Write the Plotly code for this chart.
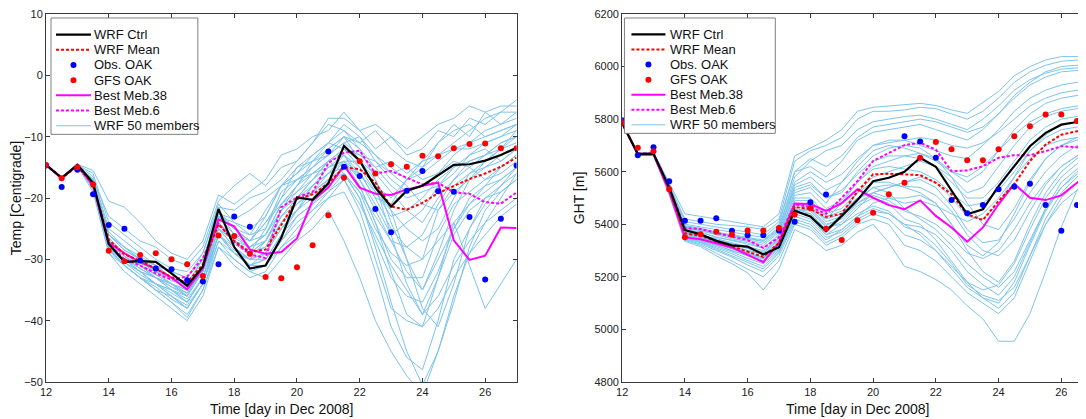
import plotly.graph_objects as go

days = [12, 12.5, 13, 13.5, 14, 14.5, 15, 15.5, 16, 16.5, 17, 17.5, 18, 18.5, 19, 19.5,
        20, 20.5, 21, 21.5, 22, 22.5, 23, 23.5, 24, 24.5, 25, 25.5, 26, 26.5, 27]

# ---------------- Temperature panel ----------------
temp_ctrl = [-14.6, -16.7, -14.6, -17.5, -27.5, -30.4, -30.3, -30.4, -32.3, -34.3, -31.2, -21.8, -28.0, -31.5, -31.0, -26.5,
             -19.9, -20.3, -17.6, -11.5, -13.9, -18.3, -21.4, -18.8, -18.0, -16.3, -14.6, -14.5, -13.9, -13.0, -11.8]
temp_mean = [-14.6, -16.7, -14.8, -17.8, -26.8, -29.2, -30.2, -31.5, -32.9, -33.8, -30.8, -24.3, -27.0, -28.8, -28.4, -24.4,
             -20.2, -19.4, -17.6, -15.0, -15.3, -17.5, -21.4, -21.9, -20.8, -19.2, -18.0, -16.9, -16.0, -14.9, -13.4]
temp_meb38 = [-14.6, -16.8, -14.6, -18.0, -27.3, -29.0, -30.5, -31.5, -33.0, -34.9, -31.5, -23.5, -24.6, -28.4, -29.1, -28.8,
              -26.6, -20.4, -18.3, -14.7, -18.3, -19.3, -19.5, -18.6, -18.0, -17.5, -26.9, -30.1, -29.4, -24.8, -24.9]
temp_meb6 = [-14.6, -16.8, -14.8, -17.8, -27.5, -30.0, -31.0, -32.3, -33.3, -32.8, -29.8, -24.2, -27.2, -29.2, -29.8, -21.5,
             -19.9, -19.0, -14.3, -12.6, -12.3, -16.0, -15.6, -16.7, -17.8, -17.5, -19.1, -19.3, -20.7, -20.9, -19.1]
temp_obs = [-14.7, -18.2, -15.4, -19.4, -24.4, -25.0, -30.2, -31.5, -31.6, -33.4, -33.6, -30.8, -23.0, -24.7, None, None,
            None, None, -12.4, -14.9, -16.4, -21.8, -25.6, -18.8, -15.6, -18.9, -19.0, -23.1, -33.3, -23.4, -14.7]
temp_gfs = [-14.6, -16.8, -15.0, -17.8, -28.6, -30.3, -29.3, -29.0, -30.0, -30.8, -32.7, -26.1, -26.2, -29.1, -32.9, -33.1,
            -31.3, -27.7, -22.8, -16.7, -14.0, -16.0, -14.5, -14.9, -13.1, -13.2, -11.9, -11.2, -11.1, -11.9, -11.9]

temp_members = [
    [-14.6, -16.8, -14.5, -15.5, -20.5, -21.5, -24, -27, -29, -30, -27, -19.5, -21, -19, -17, -13, -12, -10, -9, -6, -9, -12, -10, -13, -12, -9, -10, -7, -8, -6, -4],
    [-14.6, -16.7, -14.6, -17, -23, -25, -27, -28, -30, -31, -28, -20.5, -18, -16, -18, -15, -14, -11, -8, -9, -11, -9, -12, -14, -15, -11, -8, -10, -6, -8, -7],
    [-14.6, -16.8, -14.7, -18, -26, -28, -30, -31, -32, -33, -29, -21, -24, -25, -23, -18, -16, -13, -11, -12, -14, -17, -22, -30, -38, -41, -34, -25, -20, -18, -16],
    [-14.6, -16.8, -14.6, -18.5, -28, -30, -32, -34, -36, -38, -34, -26, -29, -30, -27, -22, -20, -17, -14, -16, -20, -28, -37, -45, -50.5, -45, -37, -28, -22, -19, -17],
    [-14.6, -16.9, -14.8, -19, -29, -31, -33, -35, -37, -39, -35, -27, -30, -32, -33, -30, -27, -25, -22, -27, -33, -40, -45, -49, -52, -45, -36, -29, -24, -20, -16],
    [-14.6, -16.8, -14.7, -17.5, -27, -29, -31, -33, -34, -36, -31, -23, -26, -28, -26, -21, -18, -15, -12, -10, -14, -16, -19, -22, -24, -20, -17, -15, -13, -11, -10],
    [-14.6, -16.7, -14.6, -16.5, -25, -27, -29, -31, -33, -35, -32, -24, -27, -29, -25, -19, -17, -16, -15, -14, -16, -20, -25, -28, -30, -22, -18, -16, -14, -12, -9],
    [-14.6, -16.8, -14.7, -18, -27.5, -30, -32, -33, -35, -37, -33, -25, -28, -31, -29, -24, -22, -19, -16, -13, -15, -18, -20, -17, -15, -13, -12, -12, -11, -10, -8],
    [-14.6, -16.8, -14.8, -18, -28, -31, -33, -34, -36, -37.5, -34, -26, -29, -31, -30, -26, -23, -21, -19, -16, -19, -23, -27, -32, -35, -30, -25, -21, -18, -15, -13],
    [-14.6, -16.7, -14.6, -17, -26, -28.5, -30, -32, -34, -35, -32, -22.5, -25, -27, -24, -20, -15, -13, -11, -8, -10, -13, -16, -15, -17, -16, -13, -11, -9, -8, -6],
    [-14.6, -16.8, -14.7, -18, -27, -29.5, -31, -32.5, -34, -36, -31, -24, -26.5, -28, -27, -23, -20, -18, -16, -14, -18, -24, -30, -33, -33, -26, -21, -19, -17, -16, -14],
    [-14.6, -16.8, -14.6, -17.5, -26.5, -29, -30.5, -32, -33.5, -34, -30, -23, -25, -27, -24, -21, -19, -17, -14, -12, -13, -15, -18, -20, -19, -18, -16, -13, -12, -14, -12],
    [-14.6, -16.8, -14.8, -18.5, -29, -32, -34, -36, -38, -40, -36, -28, -31, -33, -32, -28, -26, -23, -20, -17, -22, -30, -38, -40, -41, -33, -24, -31, -38, -34, -30],
    [-14.6, -16.7, -14.6, -16, -24, -26, -28, -30, -31.5, -32, -29, -21.5, -22, -20, -19, -17, -14, -11, -7, -7, -9, -8, -10, -12, -10, -8, -7, -5, -6, -5, -5],
    [-14.6, -16.8, -14.7, -17.5, -27, -29, -31, -32, -33, -35, -31, -22, -26, -27, -23, -18, -15, -14, -12, -10, -12, -17, -24, -30, -35, -29, -22, -17, -14, -12, -11],
    [-14.6, -16.8, -14.6, -18, -28, -30, -32, -33, -35, -36, -32, -25, -27, -29, -28, -24, -21, -18, -15, -13, -17, -21, -26, -24, -22, -18, -15, -14, -13, -12, -10],
    [-14.6, -16.8, -14.7, -18, -28, -30.5, -32.5, -34, -35, -36.5, -33, -25, -28, -30, -29, -25, -22, -20, -17, -15, -16, -19, -22, -25, -27, -25, -20, -16, -15, -13, -12],
    [-14.6, -16.8, -14.8, -18.5, -28.5, -31, -33, -35, -36, -38, -34, -27, -29, -31, -30, -27, -24, -22, -20, -19, -24, -32, -41, -46, -48, -40, -30, -25, -21, -18, -15],
    [-14.6, -16.8, -14.6, -17, -25.5, -28, -29.5, -31, -33, -34, -30, -23, -24, -26, -22, -18, -16, -14, -13, -11, -10, -14, -17, -19, -18, -16, -14, -15, -17, -15, -13],
    [-14.6, -16.7, -14.6, -17.5, -27, -29, -30.5, -32, -33, -34.5, -31, -24, -27, -29, -27, -22, -18, -16, -14, -13, -16, -20, -21, -17, -14, -11, -9, -8, -10, -9, -8],
    [-14.6, -16.8, -14.7, -18, -28, -30, -32, -34, -35.5, -37, -33, -26, -28, -30, -30, -26, -22, -19, -17, -16, -20, -27, -33, -36, -37, -32, -25, -20, -18, -17, -15],
    [-14.6, -16.8, -14.6, -17.5, -26, -28, -30, -31, -32, -33, -30, -22, -25, -26, -25, -20, -17, -15, -13, -11, -13, -14, -16, -18, -21, -22, -19, -17, -15, -14, -12],
    [-14.6, -16.8, -14.7, -18, -27.5, -30, -31.5, -33, -34.5, -35.5, -32, -24, -27, -28, -26, -22, -19, -16, -14, -12, -15, -19, -23, -22, -20, -17, -15, -13, -11, -10, -9],
    [-14.6, -16.8, -14.8, -18.5, -28.5, -31, -33, -34.5, -36.5, -38, -34, -26, -29, -31, -31, -28, -25, -22, -19, -17, -21, -26, -31, -35, -39, -36, -31, -27, -24, -22, -20],
    [-14.6, -16.7, -14.6, -17, -26, -28.5, -30, -31.5, -33, -34, -31, -23, -25, -27, -26, -21, -18, -14, -11, -9, -12, -15, -14, -16, -14, -13, -11, -9, -7, -6, -6],
    [-14.6, -16.8, -14.7, -17.5, -27, -29.5, -31, -33, -34, -35.5, -31.5, -24, -27.5, -29, -28, -23, -21, -19, -17, -14, -14, -18, -26, -34, -39, -33, -26, -22, -20, -19, -17],
    [-14.6, -16.8, -14.6, -18, -27.5, -29.5, -31.5, -33, -34.5, -36, -32, -25, -27, -29, -27, -23, -20, -17, -15, -14, -17, -22, -27, -28, -26, -21, -17, -14, -13, -11, -10],
    [-14.6, -16.8, -14.7, -18, -28, -30.5, -32, -34, -35, -37, -33, -26, -28.5, -30, -29, -25, -22, -18, -16, -15, -18, -24, -32, -39, -41, -38, -33, -29, -26, -23, -21],
    [-14.6, -16.8, -14.7, -17.8, -27, -29, -31, -32.5, -34, -35, -31, -22.5, -23.5, -22, -20, -18, -17, -15, -13, -10, -11, -13, -15, -17, -16, -14, -12, -11, -10, -9, -8],
    [-14.6, -16.8, -14.6, -18.2, -28.2, -31, -33, -35, -37, -39.5, -35, -28, -30, -32, -31, -27, -23, -21, -18, -16, -19, -25, -29, -31, -30, -27, -24, -21, -19, -17, -15],
]

# ---------------- Geopotential height panel ----------------
ght_ctrl = [5785, 5668, 5668, 5540, 5378, 5362, 5337, 5320, 5315, 5285, 5313, 5452, 5430, 5374, 5432, 5492,
            5564, 5577, 5600, 5653, 5619, 5527, 5438, 5457, 5545, 5621, 5697, 5748, 5779, 5789, 5786]
ght_mean = [5785, 5668, 5668, 5532, 5366, 5356, 5336, 5316, 5298, 5276, 5330, 5466, 5458, 5428, 5440, 5525,
            5590, 5592, 5590, 5587, 5558, 5514, 5438, 5416, 5489, 5552, 5641, 5703, 5741, 5754, 5754]
ght_meb38 = [5785, 5665, 5665, 5525, 5350, 5343, 5328, 5312, 5284, 5256, 5330, 5479, 5477, 5451, 5480, 5533,
             5501, 5473, 5457, 5491, 5432, 5388, 5334, 5388, 5476, 5554, 5501, 5492, 5510, 5558, 5600]
ght_meb6 = [5785, 5668, 5670, 5540, 5386, 5382, 5368, 5352, 5340, 5310, 5350, 5476, 5466, 5440, 5501, 5564,
            5641, 5672, 5701, 5710, 5684, 5602, 5605, 5621, 5653, 5663, 5663, 5678, 5697, 5693, 5684]
ght_obs = [5796, 5663, 5693, 5564, 5413, 5413, 5423, 5375, 5358, 5358, 5376, 5410, 5484, 5513, None, None,
           None, None, 5735, 5715, 5653, 5492, 5442, 5473, 5533, 5543, 5554, 5473, 5375, 5473, None]
ght_gfs = [5785, 5691, 5678, 5533, 5351, 5362, 5372, 5360, 5376, 5376, 5386, 5437, 5462, 5383, 5340, 5415,
           5444, 5514, 5558, 5653, 5713, 5685, 5644, 5644, 5685, 5735, 5773, 5818, 5818, 5793, None]

ght_members = [
    [5785, 5670, 5675, 5560, 5440, 5430, 5420, 5410, 5400, 5390, 5440, 5660, 5690, 5720, 5760, 5830, 5845, 5850, 5855, 5860, 5852, 5835, 5822, 5865, 5905, 5965, 6000, 6025, 6038, 6038, 6035],
    [5785, 5668, 5672, 5550, 5420, 5410, 5400, 5395, 5390, 5380, 5420, 5640, 5680, 5700, 5730, 5800, 5830, 5830, 5835, 5845, 5840, 5820, 5800, 5830, 5880, 5940, 5980, 6005, 6020, 6025, 6025],
    [5785, 5667, 5670, 5545, 5400, 5390, 5380, 5370, 5360, 5350, 5400, 5600, 5620, 5580, 5640, 5720, 5750, 5760, 5770, 5780, 5760, 5740, 5720, 5760, 5820, 5890, 5940, 5980, 6000, 6005, 6000],
    [5785, 5666, 5669, 5540, 5380, 5370, 5350, 5340, 5330, 5310, 5360, 5520, 5540, 5480, 5560, 5640, 5700, 5720, 5720, 5700, 5680, 5660, 5650, 5700, 5760, 5830, 5880, 5910, 5930, 5940, 5945],
    [5785, 5665, 5668, 5535, 5370, 5355, 5340, 5320, 5300, 5290, 5340, 5480, 5460, 5420, 5480, 5560, 5620, 5640, 5660, 5670, 5650, 5600, 5560, 5600, 5680, 5760, 5820, 5860, 5880, 5890, 5890],
    [5785, 5665, 5667, 5530, 5360, 5345, 5330, 5310, 5290, 5270, 5320, 5460, 5440, 5380, 5440, 5520, 5580, 5600, 5620, 5640, 5620, 5580, 5520, 5540, 5620, 5700, 5770, 5810, 5830, 5840, 5840],
    [5785, 5664, 5666, 5525, 5350, 5335, 5315, 5295, 5270, 5250, 5300, 5440, 5420, 5360, 5400, 5460, 5520, 5540, 5560, 5580, 5560, 5500, 5430, 5420, 5480, 5580, 5680, 5740, 5780, 5790, 5790],
    [5785, 5664, 5665, 5520, 5345, 5330, 5305, 5280, 5255, 5230, 5290, 5420, 5400, 5340, 5380, 5430, 5480, 5500, 5500, 5510, 5480, 5400, 5320, 5280, 5330, 5440, 5560, 5650, 5700, 5730, 5740],
    [5785, 5663, 5664, 5515, 5340, 5320, 5290, 5260, 5230, 5200, 5260, 5400, 5380, 5320, 5350, 5400, 5420, 5400, 5320, 5300, 5260, 5200, 5140, 5100, 5060, 5120, 5260, 5400, 5500, 5560, 5600],
    [5785, 5662, 5663, 5512, 5335, 5315, 5280, 5250, 5215, 5150, 5230, 5380, 5350, 5300, 5320, 5370, 5400, 5330, 5240, 5220, 5190, 5150, 5090, 5040, 4955, 4955, 5060, 5220, 5390, 5530, 5600],
    [5785, 5666, 5670, 5540, 5385, 5375, 5360, 5345, 5335, 5320, 5370, 5540, 5560, 5500, 5520, 5600, 5660, 5690, 5700, 5690, 5650, 5580, 5480, 5400, 5380, 5460, 5570, 5650, 5700, 5720, 5730],
    [5785, 5665, 5668, 5535, 5375, 5360, 5345, 5330, 5315, 5300, 5350, 5500, 5500, 5440, 5460, 5520, 5560, 5560, 5540, 5520, 5480, 5400, 5300, 5220, 5180, 5260, 5400, 5520, 5600, 5650, 5680],
    [5785, 5667, 5671, 5548, 5395, 5385, 5370, 5360, 5350, 5340, 5390, 5560, 5600, 5560, 5590, 5650, 5700, 5710, 5720, 5730, 5720, 5700, 5690, 5710, 5750, 5800, 5850, 5880, 5900, 5910, 5910],
    [5785, 5666, 5669, 5538, 5370, 5352, 5336, 5318, 5300, 5285, 5330, 5470, 5480, 5420, 5440, 5500, 5540, 5520, 5460, 5420, 5380, 5320, 5250, 5200, 5160, 5220, 5340, 5460, 5540, 5590, 5620],
    [5785, 5665, 5667, 5530, 5355, 5340, 5322, 5300, 5282, 5262, 5310, 5450, 5430, 5360, 5380, 5430, 5460, 5440, 5400, 5360, 5300, 5230, 5160, 5120, 5100, 5180, 5320, 5450, 5540, 5600, 5640],
    [5785, 5667, 5670, 5545, 5390, 5380, 5365, 5355, 5345, 5335, 5380, 5550, 5580, 5530, 5560, 5620, 5680, 5700, 5690, 5670, 5640, 5600, 5580, 5620, 5680, 5740, 5790, 5820, 5840, 5850, 5850],
    [5785, 5665, 5668, 5533, 5365, 5350, 5333, 5315, 5295, 5275, 5325, 5465, 5460, 5400, 5420, 5480, 5520, 5540, 5560, 5570, 5540, 5470, 5380, 5330, 5340, 5420, 5520, 5600, 5660, 5700, 5720],
    [5785, 5664, 5666, 5527, 5352, 5338, 5320, 5300, 5280, 5260, 5305, 5445, 5440, 5380, 5410, 5470, 5500, 5480, 5420, 5400, 5340, 5260, 5180, 5150, 5170, 5250, 5380, 5500, 5580, 5630, 5660],
    [5785, 5666, 5669, 5540, 5380, 5368, 5352, 5338, 5325, 5310, 5360, 5510, 5520, 5460, 5490, 5560, 5610, 5620, 5610, 5600, 5570, 5520, 5470, 5480, 5530, 5600, 5680, 5730, 5760, 5770, 5775],
    [5785, 5663, 5665, 5518, 5342, 5325, 5300, 5275, 5245, 5220, 5280, 5410, 5390, 5330, 5360, 5410, 5440, 5420, 5360, 5340, 5300, 5240, 5180, 5120, 5080, 5140, 5280, 5420, 5520, 5580, 5620],
    [5785, 5665, 5668, 5536, 5368, 5355, 5340, 5325, 5310, 5295, 5345, 5490, 5490, 5430, 5450, 5500, 5520, 5500, 5480, 5490, 5470, 5440, 5410, 5440, 5500, 5580, 5650, 5700, 5720, 5730, 5735],
    [5785, 5667, 5670, 5542, 5388, 5376, 5362, 5350, 5340, 5328, 5375, 5530, 5550, 5500, 5530, 5590, 5640, 5660, 5660, 5650, 5620, 5560, 5500, 5500, 5560, 5640, 5720, 5770, 5800, 5810, 5810],
    [5785, 5666, 5669, 5537, 5372, 5358, 5342, 5326, 5308, 5290, 5340, 5480, 5470, 5410, 5430, 5480, 5510, 5490, 5450, 5430, 5400, 5350, 5290, 5270, 5300, 5380, 5480, 5560, 5620, 5660, 5690],
    [5785, 5664, 5666, 5522, 5348, 5332, 5310, 5288, 5262, 5240, 5295, 5430, 5410, 5350, 5370, 5420, 5450, 5440, 5400, 5390, 5360, 5300, 5220, 5170, 5130, 5200, 5330, 5460, 5560, 5610, 5640],
    [5785, 5668, 5672, 5552, 5410, 5400, 5388, 5378, 5368, 5360, 5410, 5600, 5650, 5620, 5660, 5730, 5770, 5780, 5790, 5800, 5790, 5770, 5750, 5770, 5820, 5880, 5930, 5960, 5980, 5985, 5985],
    [5785, 5665, 5667, 5532, 5358, 5342, 5326, 5306, 5288, 5268, 5315, 5455, 5450, 5390, 5400, 5440, 5470, 5450, 5390, 5370, 5320, 5250, 5170, 5130, 5110, 5160, 5280, 5400, 5480, 5530, 5570],
    [5785, 5666, 5670, 5544, 5392, 5380, 5368, 5356, 5346, 5336, 5385, 5580, 5640, 5680, 5700, 5760, 5790, 5800, 5810, 5815, 5800, 5780, 5760, 5800, 5850, 5910, 5950, 5975, 5990, 5995, 5995],
    [5785, 5665, 5668, 5534, 5362, 5348, 5330, 5312, 5292, 5272, 5318, 5458, 5455, 5395, 5425, 5490, 5540, 5550, 5545, 5540, 5510, 5450, 5360, 5300, 5280, 5340, 5450, 5550, 5620, 5660, 5690],
]

legend_labels = ["WRF Ctrl", "WRF Mean", "Obs. OAK", "GFS OAK", "Best Meb.38", "Best Meb.6", "WRF 50 members"]

# ---------------- Styles ----------------
FONT = "Liberation Sans, Arial, sans-serif"
MEMBER_COLOR = "rgb(125,196,236)"
AXIS_COLOR = "#3a3a3a"
DOT = "3px,2px"
styles = {
    "WRF Ctrl": dict(kind="line", color="black", width=2.2, dash="solid"),
    "WRF Mean": dict(kind="line", color="#ff0000", width=2, dash=DOT),
    "Obs. OAK": dict(kind="marker", color="#0000ff"),
    "GFS OAK": dict(kind="marker", color="#ff0000"),
    "Best Meb.38": dict(kind="line", color="#ff00ff", width=2, dash="solid"),
    "Best Meb.6": dict(kind="line", color="#ff00ff", width=2, dash=DOT),
    "WRF 50 members": dict(kind="line", color=MEMBER_COLOR, width=1, dash="solid"),
}

# Page body has an 8px default margin: the figure sits at (8, 8) in the window.
OFF = 8
VW, VH = 1086, 419
W, H = VW - OFF, VH - OFF
PLOT_L, PLOT_T, PLOT_B = 45, 12, 382            # window pixel positions of the left plot box
ML, MT = PLOT_L - OFF, PLOT_T - OFF
MB = VH - PLOT_B
MR = 0
pw = W - ML - MR
ph = H - MT - MB
left_end = (516 - PLOT_L) / pw
right_start = (621.7 - PLOT_L) / pw
px_per_day = (516 - 45) / 15.0
right_xmax = 12 + (VW - 621.7) / px_per_day


def px(xp):
    return (xp - PLOT_L) / pw


def py(yp):
    return 1 - (yp - PLOT_T) / ph


fig = go.Figure()


def add_panel(xa, ya, members, ctrl, mean, meb38, meb6, obs, gfs):
    for m in members:
        fig.add_trace(go.Scatter(x=days, y=m, mode="lines", xaxis=xa, yaxis=ya,
                                 line=dict(color=MEMBER_COLOR, width=1), hoverinfo="skip"))
    series = [("Best Meb.38", meb38), ("Best Meb.6", meb6), ("WRF Mean", mean), ("WRF Ctrl", ctrl)]
    for name, vals in series:
        s = styles[name]
        fig.add_trace(go.Scatter(x=days, y=vals, mode="lines", xaxis=xa, yaxis=ya, name=name,
                                 line=dict(color=s["color"], width=s["width"], dash=s["dash"])))
    for name, vals in [("Obs. OAK", obs), ("GFS OAK", gfs)]:
        fig.add_trace(go.Scatter(x=days, y=vals, mode="markers", xaxis=xa, yaxis=ya, name=name,
                                 marker=dict(color=styles[name]["color"], size=6)))


add_panel("x", "y", temp_members, temp_ctrl, temp_mean, temp_meb38, temp_meb6, temp_obs, temp_gfs)
add_panel("x2", "y2", ght_members, ght_ctrl, ght_mean, ght_meb38, ght_meb6, ght_obs, ght_gfs)

shapes = []
annotations = []


def build_legend(box_left, box_right, box_top, box_bottom, line_x0, line_x1, text_x):
    shapes.append(dict(type="rect", xref="paper", yref="paper", layer="above",
                       x0=px(box_left), x1=px(box_right), y0=py(box_bottom), y1=py(box_top),
                       line=dict(color="#808080", width=1), fillcolor="white"))
    step = (box_bottom - box_top - 10) / 7.0
    for i, label in enumerate(legend_labels):
        yc = box_top + 10 + step * (i + 0.5) - 1
        s = styles[label]
        if s["kind"] == "line":
            shapes.append(dict(type="line", xref="paper", yref="paper", layer="above",
                               x0=px(line_x0), x1=px(line_x1), y0=py(yc), y1=py(yc),
                               line=dict(color=s["color"], width=s["width"], dash=s["dash"])))
        else:
            cx = (line_x0 + line_x1) / 2
            shapes.append(dict(type="circle", xref="paper", yref="paper", layer="above",
                               x0=px(cx - 3), x1=px(cx + 3), y0=py(yc + 3), y1=py(yc - 3),
                               line=dict(color=s["color"], width=0), fillcolor=s["color"]))
        annotations.append(dict(xref="paper", yref="paper", x=px(text_x), y=py(yc), text=label,
                                showarrow=False, xanchor="left", yanchor="middle",
                                font=dict(family=FONT, size=13, color="#111")))


build_legend(50, 197, 16, 133, 55, 90, 91.5)
build_legend(624, 775, 16, 132, 631, 665, 668)

title_font = dict(family=FONT, size=14, color="#111")
for cx in [(45 + 516) / 2, (621.7 + 1093) / 2]:
    annotations.append(dict(xref="paper", yref="paper", x=px(cx), y=py(409), text="Time [day in Dec 2008]",
                            showarrow=False, xanchor="center", yanchor="middle", font=title_font))

tick_font = dict(family=FONT, size=11, color="#222")

common_x = dict(tickmode="array", tickvals=[12, 14, 16, 18, 20, 22, 24, 26],
                ticks="inside", ticklen=4, tickcolor=AXIS_COLOR, showline=True,
                linecolor=AXIS_COLOR, linewidth=1, showgrid=False, zeroline=False,
                tickfont=tick_font, ticklabeloverflow="allow")
common_y = dict(ticks="inside", ticklen=4, tickcolor=AXIS_COLOR, showline=True,
                linecolor=AXIS_COLOR, linewidth=1, showgrid=False, zeroline=False,
                tickfont=tick_font, ticklabeloverflow="allow")

fig.update_layout(
    width=W, height=H,
    margin=dict(l=ML, r=MR, t=MT, b=MB),
    paper_bgcolor="white", plot_bgcolor="white",
    showlegend=False,
    xaxis=dict(domain=[0, left_end], range=[12, 27], mirror="ticks", **common_x),
    yaxis=dict(range=[-50, 10], dtick=10, mirror="ticks",
               title=dict(text="Temp [Centigrade]", font=title_font, standoff=6), **common_y),
    xaxis2=dict(domain=[right_start, 1], range=[12, right_xmax], mirror="ticks", anchor="y2", **common_x),
    yaxis2=dict(range=[4800, 6200], dtick=200, anchor="x2", mirror=False,
                title=dict(text="GHT [m]", font=title_font, standoff=6), **common_y),
    shapes=shapes,
    annotations=annotations,
)

fig.write_html("out.html")
